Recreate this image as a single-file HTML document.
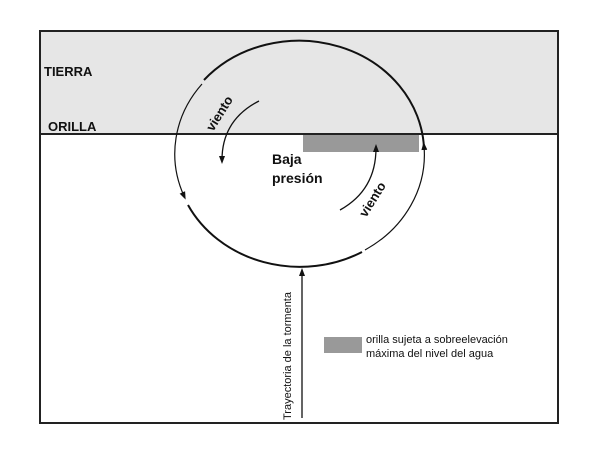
<!DOCTYPE html>
<html><head><style>body{margin:0;background:#fff}svg{display:block}</style></head><body>
<svg width="611" height="452" viewBox="0 0 611 452" font-family="Liberation Sans, sans-serif">
<defs><marker id="a" markerWidth="8" markerHeight="8" refX="4" refY="4" orient="auto" markerUnits="userSpaceOnUse"><path d="M0,1 L8,4 L0,7z" fill="#111"/></marker></defs>
<rect x="40" y="31" width="518" height="103" fill="#e6e6e6"/>
<rect x="40" y="31" width="518" height="392" fill="none" stroke="#222" stroke-width="2"/>
<line x1="40" y1="134" x2="558" y2="134" stroke="#222" stroke-width="2"/>
<rect x="303" y="135" width="116" height="17" fill="#999"/>
<path d="M204,80 A125,112 0 0 1 424,148" fill="none" stroke="#111" stroke-width="2"/>
<path d="M202,84 A125,112 0 0 0 184,196" fill="none" stroke="#111" stroke-width="1.2" marker-end="url(#a)"/>
<path d="M188,205 A125,112 0 0 0 362,252" fill="none" stroke="#111" stroke-width="2"/>
<path d="M365,250 A125,112 0 0 0 424,146" fill="none" stroke="#111" stroke-width="1.2" marker-end="url(#a)"/>
<path d="M259,101 Q222,120 222,160" fill="none" stroke="#111" stroke-width="1.3" marker-end="url(#a)"/>
<path d="M340,210 Q376,190 376,148" fill="none" stroke="#111" stroke-width="1.3" marker-end="url(#a)"/>
<line x1="302" y1="418" x2="302" y2="272" stroke="#111" stroke-width="1.3" marker-end="url(#a)"/>
<text x="44" y="76" font-size="13" font-weight="bold" fill="#111">TIERRA</text>
<text x="48" y="131" font-size="13" font-weight="bold" fill="#111">ORILLA</text>
<text x="272" y="164" font-size="14" font-weight="bold" fill="#111">Baja</text>
<text x="272" y="183" font-size="14" font-weight="bold" fill="#111">presión</text>
<text transform="translate(213,132) rotate(-58)" font-size="13" font-weight="bold" fill="#111">viento</text>
<text transform="translate(366,218) rotate(-58)" font-size="13" font-weight="bold" fill="#111">viento</text>
<text transform="translate(291,420) rotate(-90)" font-size="11" fill="#111">Trayectoria de la tormenta</text>
<rect x="324" y="337" width="38" height="16" fill="#999"/>
<text x="366" y="343" font-size="11" fill="#111">orilla sujeta a sobreelevación</text>
<text x="366" y="357" font-size="11" fill="#111">máxima del nivel del agua</text>
</svg>
</body></html>
